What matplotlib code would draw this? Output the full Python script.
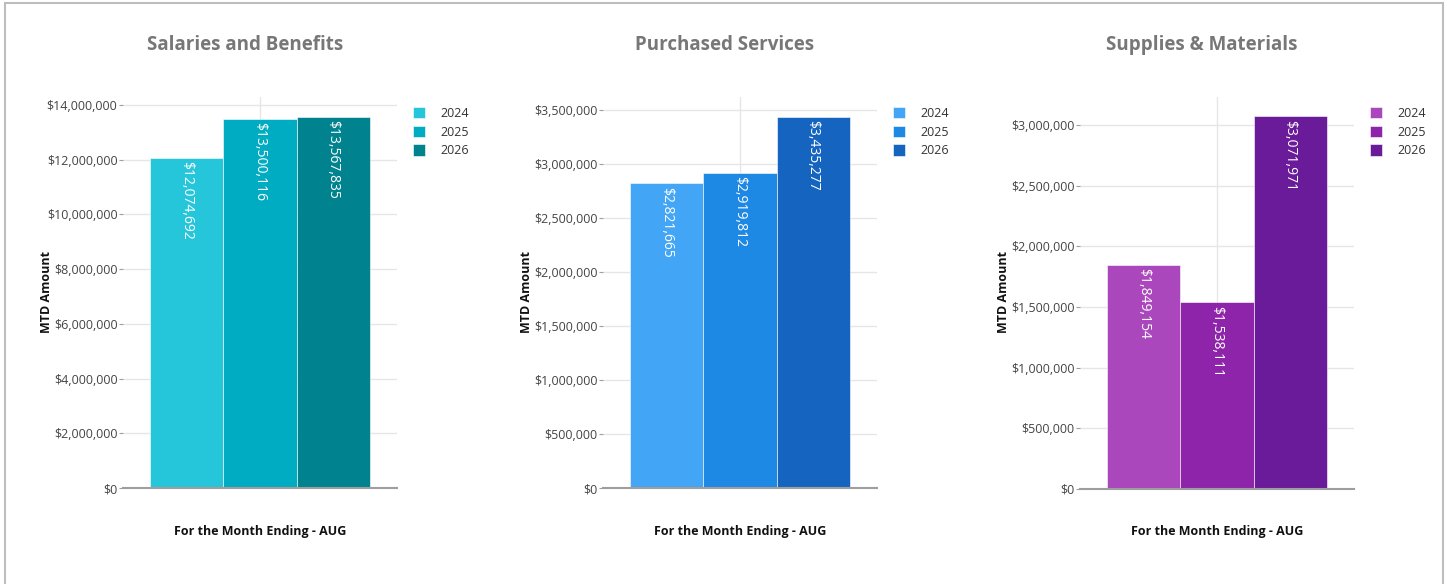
import matplotlib.pyplot as plt
from matplotlib.patches import Patch, Rectangle
from matplotlib.ticker import FuncFormatter, MultipleLocator

plt.rcParams['font.family'] = ['Open Sans', 'DejaVu Sans']

years = ['2024', '2025', '2026']
titles = ['Salaries and Benefits', 'Purchased Services', 'Supplies & Materials']

salaries = [12074692, 13500116, 13567835]
purchased = [2821665, 2919812, 3435277]
supplies = [1849154, 1538111, 3071971]

colors = [
    ['#26C6DA', '#00ACC1', '#00838F'],
    ['#42A5F5', '#1E88E5', '#1565C0'],
    ['#AB47BC', '#8E24AA', '#6A1B9A'],
]
steps = [2000000, 500000, 500000]
ymax = [14296000, 3620000, 3229000]
lefts = [123, 603, 1080]

W, H = 1449, 584
fig = plt.figure(figsize=(W / 100, H / 100), dpi=100)

# outer frame
fig.patches.append(Rectangle((5 / W, -0.05), (1443 - 5) / W, 1.05 - 3 / H,
                             transform=fig.transFigure, fill=False,
                             edgecolor='#bdbdbd', linewidth=1.5))

money = FuncFormatter(lambda v, p: '${:,.0f}'.format(v))
bw = 0.8 / 3

for i, vals in enumerate([salaries, purchased, supplies]):
    bottom_px = 488 if i < 2 else 489
    ax_h = bottom_px - 97
    ax = fig.add_axes([lefts[i] / W, 1 - bottom_px / H, 274 / W, ax_h / H])
    for j, v in enumerate(vals):
        x = (j - 1) * bw
        ax.bar(x, v, width=bw, color=colors[i][j], edgecolor='#ffffff', linewidth=0.4, zorder=3)
        ax.annotate('${:,.0f}'.format(v), (x, v), xytext=(0, -2.5), textcoords='offset points',
                    rotation=270, ha='center', va='top', color='white', fontsize=10, zorder=4)
    ax.set_xlim(-0.5, 0.5)
    ax.set_ylim(0, ymax[i])
    ax.yaxis.set_major_locator(MultipleLocator(steps[i]))
    ax.yaxis.set_major_formatter(money)
    ax.set_xticks([0])
    ax.set_xticklabels([''])
    ax.grid(True, color='#e6e6e6', linewidth=1, zorder=0)
    for s in ['top', 'right', 'left']:
        ax.spines[s].set_visible(False)
    ax.spines['bottom'].set_color('#9e9e9e')
    ax.spines['bottom'].set_linewidth(1.5)
    ax.spines['bottom'].set_zorder(5)
    ax.tick_params(axis='y', length=3, color='#9e9e9e', labelsize=9, labelcolor='#444444', pad=1)
    ax.tick_params(axis='x', length=0)
    ax.set_ylabel('MTD Amount', fontsize=9, fontweight='bold', color='#111111')
    ax.yaxis.set_label_coords((53 - 123) / 274, (bottom_px - 292) / ax_h)
    ax.set_xlabel('For the Month Ending - AUG', fontsize=9, fontweight='bold', color='#111111')
    ax.xaxis.set_label_coords(0.5, -(532 - bottom_px) / ax_h)
    ax.xaxis.label.set_va('center')
    ax.text(0.5 - 15 / 274, (bottom_px - 45) / ax_h, titles[i], transform=ax.transAxes,
            ha='center', va='center', fontsize=13.5, fontweight='bold', color='#777777')
    handles = [Patch(facecolor=c, edgecolor='#ffffff', linewidth=0.4) for c in colors[i]]
    ax.legend(handles, years, loc='upper left', bbox_to_anchor=(1.04, (bottom_px - 102) / ax_h),
              frameon=False, fontsize=9, handlelength=1.0, handleheight=1.0, handletextpad=1.2,
              labelspacing=0.45, borderaxespad=0, labelcolor='#333333')

fig.savefig('out.png', dpi=100, facecolor='white')
